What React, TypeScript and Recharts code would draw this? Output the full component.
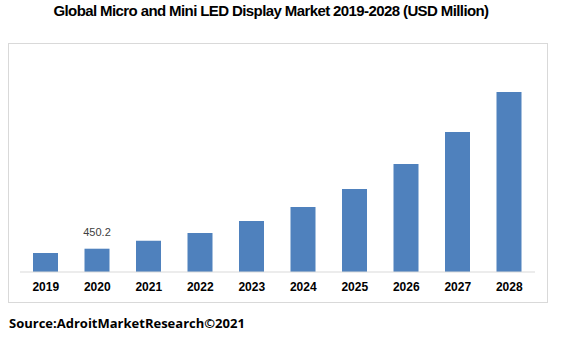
import { Bar, BarChart, LabelList, XAxis, YAxis } from 'recharts';

const years = ['2019', '2020', '2021', '2022', '2023', '2024', '2025', '2026', '2027', '2028'];
const marketValues = [367, 450.2, 604, 753, 985, 1255, 1603, 2086, 2704, 3476];
const shownLabels = [null, '450.2', null, null, null, null, null, null, null, null];

const data = years.map((year, i) => ({
  year,
  value: marketValues[i],
  label: shownLabels[i],
}));

const barColor = '#4f81bd';
const frameColor = '#d9d9d9';

export default function App() {
  return (
    <div
      style={{
        position: 'absolute',
        left: 0,
        top: 0,
        width: 569,
        height: 343,
        background: '#fff',
        overflow: 'hidden',
      }}
    >
      <div
        style={{
          position: 'absolute',
          left: 0,
          top: 2,
          width: 542,
          textAlign: 'center',
          fontFamily: 'Liberation Sans, Arial, sans-serif',
          fontWeight: 'bold',
          fontSize: 15,
          letterSpacing: -0.6,
          color: '#000',
        }}
      >
        Global Micro and Mini LED Display Market 2019-2028 (USD Million)
      </div>

      <div
        style={{
          position: 'absolute',
          left: 8,
          top: 43,
          width: 538,
          height: 258,
          border: `1px solid ${frameColor}`,
        }}
      />

      <div style={{ position: 'absolute', left: 0, top: 0 }}>
        <BarChart
          width={569}
          height={343}
          data={data}
          margin={{ top: 65, right: 34, bottom: 41, left: 20 }}
        >
          <YAxis hide domain={[0, 4000]} />
          <XAxis
            dataKey="year"
            height={30}
            axisLine={{ stroke: frameColor }}
            tickLine={false}
            tickMargin={4}
            interval={0}
            tick={{
              fontSize: 12,
              fontWeight: 'bold',
              fill: '#000',
              fontFamily: 'Liberation Sans Narrow, Liberation Sans, Arial, sans-serif',
            }}
          />
          <Bar dataKey="value" fill={barColor} barSize={25} isAnimationActive={false}>
            <LabelList
              dataKey="label"
              position="top"
              offset={13}
              fill="#404040"
              fontSize={11}
              fontFamily="Liberation Sans, Arial, sans-serif"
            />
          </Bar>
        </BarChart>
      </div>

      <div
        style={{
          position: 'absolute',
          left: 9,
          top: 314,
          fontFamily: 'Open Sans, Noto Sans, sans-serif',
          fontWeight: 'bold',
          fontSize: 13,
          color: '#000',
          whiteSpace: 'nowrap',
        }}
      >
        Source:AdroitMarketResearch©2021
      </div>
    </div>
  );
}
